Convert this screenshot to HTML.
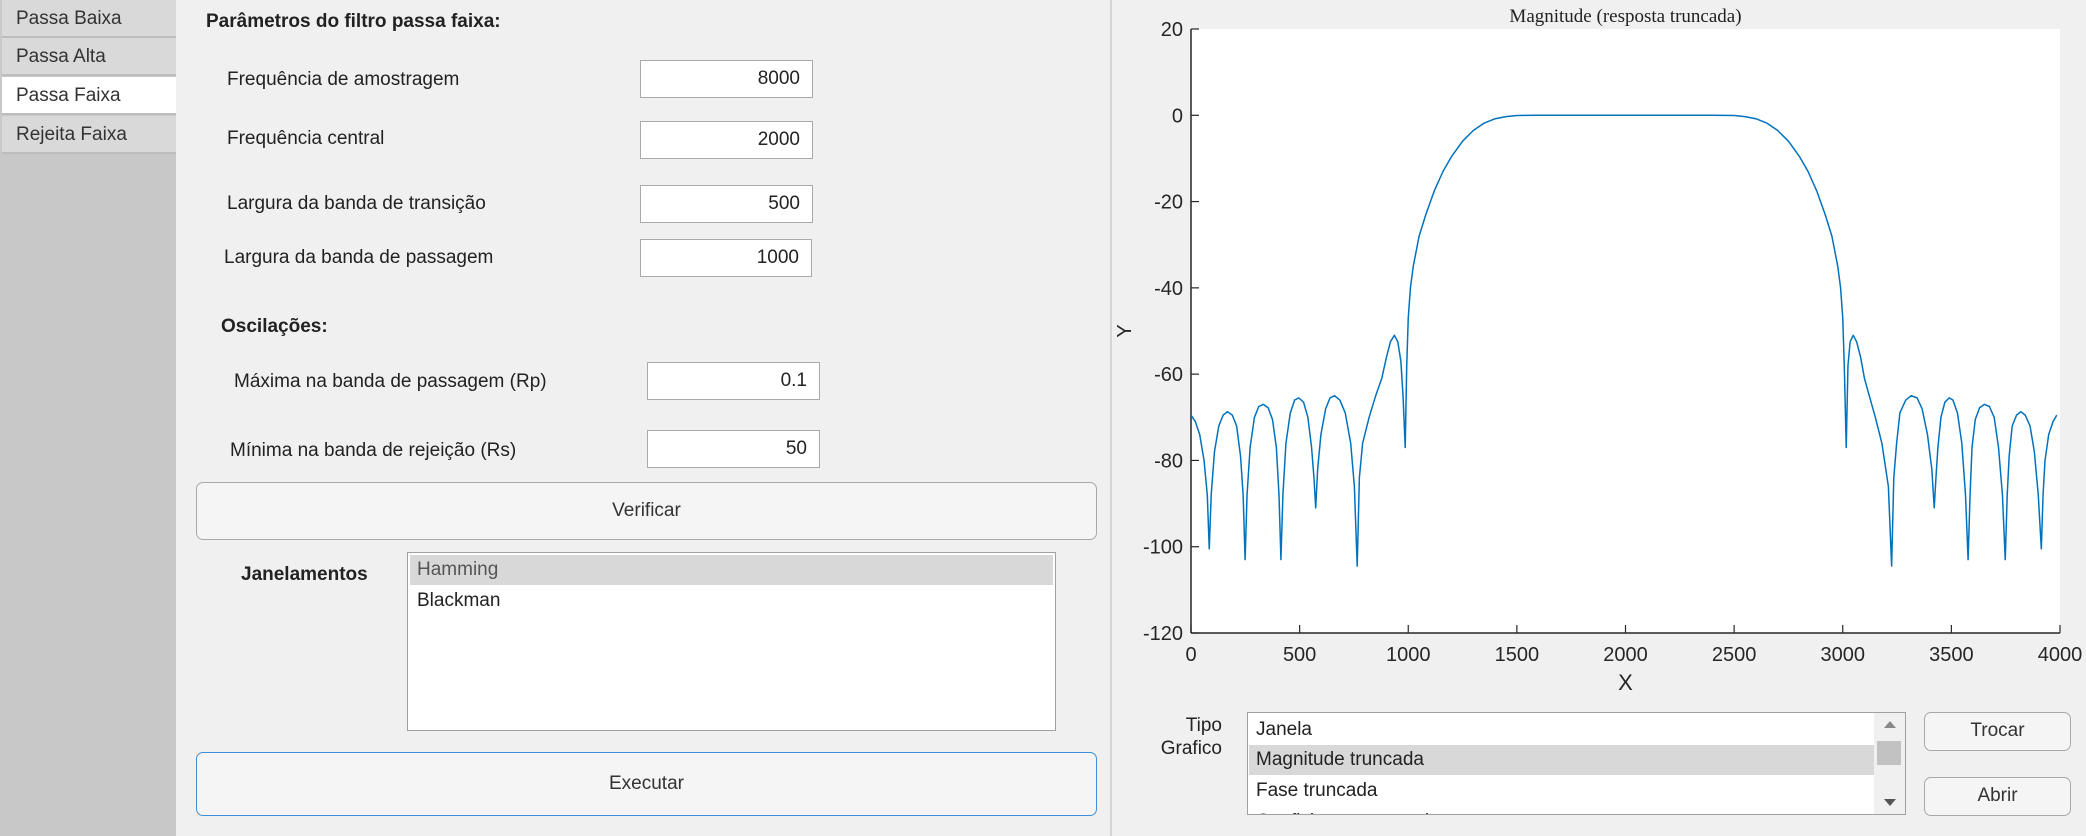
<!DOCTYPE html>
<html><head><meta charset="utf-8">
<style>
*{box-sizing:border-box;margin:0;padding:0}
body{width:2086px;height:836px;overflow:hidden;background:#f0f0f0;font-family:"Liberation Sans",sans-serif;position:relative;color:#222}
.a{position:absolute}
.lbl{position:absolute;font-size:19px;line-height:24px;white-space:nowrap}
.b{font-weight:bold}
.tab{position:absolute;left:2px;width:174px;height:38px;font-size:19px;line-height:38px;padding-left:14px;background:#d9d9d9;border-bottom:2px solid #bdbdbd;color:#333}
.box{position:absolute;background:#fff;border:1px solid #a9a9a9;font-size:19px;text-align:right;padding-right:12px;line-height:36px}
.btn{position:absolute;background:#f5f5f5;border:1.5px solid #a8a8a8;border-radius:7px;font-size:19px;text-align:center;color:#333}
</style></head><body>
<div class="a" style="left:0;top:0;width:176px;height:836px;background:#c8c8c8"></div>
<div class="tab" style="top:0">Passa Baixa</div>
<div class="tab" style="top:38px">Passa Alta</div>
<div class="tab" style="top:77px;background:#fff">Passa Faixa</div>
<div class="tab" style="top:116px">Rejeita Faixa</div>
<div class="a" style="left:1110px;top:0;width:2px;height:836px;background:#d4d4d4"></div>

<div class="lbl b" style="left:206px;top:10px">Parâmetros do filtro passa faixa:</div>
<div class="lbl" style="left:227px;top:68px">Frequência de amostragem</div>
<div class="box" style="left:640px;top:60px;width:173px;height:38px">8000</div>
<div class="lbl" style="left:227px;top:127px">Frequência central</div>
<div class="box" style="left:640px;top:121px;width:173px;height:38px">2000</div>
<div class="lbl" style="left:227px;top:192px">Largura da banda de transição</div>
<div class="box" style="left:640px;top:185px;width:173px;height:38px">500</div>
<div class="lbl" style="left:224px;top:246px">Largura da banda de passagem</div>
<div class="box" style="left:640px;top:239px;width:172px;height:38px">1000</div>
<div class="lbl b" style="left:221px;top:315px">Oscilações:</div>
<div class="lbl" style="left:234px;top:370px">Máxima na banda de passagem (Rp)</div>
<div class="box" style="left:647px;top:362px;width:173px;height:38px">0.1</div>
<div class="lbl" style="left:230px;top:439px">Mínima na banda de rejeição (Rs)</div>
<div class="box" style="left:647px;top:430px;width:173px;height:38px">50</div>
<div class="btn" style="left:196px;top:482px;width:901px;height:58px;line-height:55px">Verificar</div>
<div class="lbl b" style="left:241px;top:563px">Janelamentos</div>
<div class="a" style="left:407px;top:552px;width:649px;height:179px;background:#fff;border:1px solid #a0a0a0">
<div class="a" style="left:2px;top:2px;width:643px;height:30px;background:#d8d8d8;font-size:19px;line-height:30px;padding-left:7px;color:#555">Hamming</div>
<div class="a" style="left:2px;top:33px;width:643px;height:30px;font-size:19px;line-height:30px;padding-left:7px">Blackman</div>
</div>
<div class="btn" style="left:196px;top:752px;width:901px;height:64px;line-height:61px;border-color:#3c8fdb">Executar</div>

<svg class="a" style="left:1112px;top:0" width="974" height="705" id="chart"></svg>

<div class="lbl" style="left:1140px;top:714px;width:82px;text-align:right;line-height:23px">Tipo<br>Grafico</div>
<div class="a" style="left:1247px;top:712px;width:659px;height:103px;background:#fff;border:1px solid #a0a0a0;overflow:hidden">
<div class="a" style="left:1px;top:2px;width:625px;height:30px;font-size:19px;line-height:30px;padding-left:7px">Janela</div>
<div class="a" style="left:1px;top:32px;width:625px;height:30px;background:#d8d8d8;font-size:19px;line-height:30px;padding-left:7px">Magnitude truncada</div>
<div class="a" style="left:1px;top:63px;width:625px;height:30px;font-size:19px;line-height:30px;padding-left:7px">Fase truncada</div>
<div class="a" style="left:1px;top:94px;width:625px;height:30px;font-size:19px;line-height:30px;padding-left:7px">Coeficientes truncados</div>
<div class="a" style="left:626px;top:0;width:31px;height:101px;background:#f0f0f0">
<div class="a" style="left:10px;top:8px;width:0;height:0;border-left:6px solid transparent;border-right:6px solid transparent;border-bottom:7px solid #888"></div>
<div class="a" style="left:3px;top:28px;width:24px;height:24px;background:#c2c2c2"></div>
<div class="a" style="left:10px;top:86px;width:0;height:0;border-left:6px solid transparent;border-right:6px solid transparent;border-top:7px solid #555"></div>
</div>
</div>
<div class="btn" style="left:1924px;top:712px;width:147px;height:39px;line-height:36px">Trocar</div>
<div class="btn" style="left:1924px;top:777px;width:147px;height:39px;line-height:36px">Abrir</div>

<script>
const freqHz=[0,20,40,60,75,84,93,108,128,148,168,190,210,228,240,249,258,272,292,312,333,355,375,393,405,414,423,437,457,477,496,518,538,555,566,574,583,598,620,640,661,685,710,735,752,765,775,790,820,850,878,900,918,936,952,966,976,986,993,1000,1010,1023,1050,1081,1120,1160,1200,1250,1300,1350,1400,1450,1500,1600,2000,2400,2500,2550,2600,2650,2700,2750,2800,2840,2880,2919,2950,2977,2990,3000,3007,3016,3024,3034,3048,3064,3082,3100,3122,3150,3180,3210,3225,3235,3248,3263,3290,3315,3342,3365,3390,3410,3421,3429,3438,3452,3470,3490,3507,3528,3548,3565,3577,3586,3595,3610,3630,3652,3675,3697,3717,3735,3748,3757,3766,3780,3800,3820,3840,3862,3882,3900,3914,3922,3931,3948,3968,3985,4000];
const magDb=[-69.5,-71,-74,-80,-88,-100.5,-88,-78,-72,-69.5,-68.7,-69.5,-72,-79,-88,-103,-88,-77,-70,-67.5,-67,-67.8,-70.5,-77,-88,-103,-88,-76,-69,-66,-65.5,-66.5,-70,-77,-84,-91,-82,-74,-68,-65.5,-65,-66,-69,-76,-86,-104.5,-84,-76,-70,-65,-61,-56,-52.5,-51,-52.5,-57,-65,-77,-58,-47,-40,-35,-28,-23,-17.5,-13,-9.5,-6,-3.5,-1.8,-0.8,-0.3,-0.05,0,0,0,-0.05,-0.3,-0.8,-1.8,-3.5,-6,-9.5,-13,-17.5,-23,-28,-35,-40,-47,-58,-77,-58,-52.5,-51,-52.5,-56,-61,-65,-70,-76,-86,-104.5,-84,-76,-69,-66,-65,-65.5,-68,-74,-82,-91,-84,-77,-70,-66.5,-65.5,-66,-69,-76,-88,-103,-88,-77,-70.5,-67.8,-67,-67.5,-70,-77,-88,-103,-88,-79,-72,-69.5,-68.7,-69.5,-72,-78,-88,-100.5,-88,-80,-74,-71,-69.5];
const xTicks=[0,500,1000,1500,2000,2500,3000,3500,4000];
const yTicks=[20,0,-20,-40,-60,-80,-100,-120];

const svg=document.getElementById('chart');
const NS='http://www.w3.org/2000/svg';
const L=79,R=948,T=29,B=633;
const sx=v=>L+(v-0)/(4000-0)*(R-L);
const sy=v=>T+(20-v)/(20-(-120))*(B-T);
function mk(tag,attrs){const e=document.createElementNS(NS,tag);for(const k in attrs)e.setAttribute(k,attrs[k]);svg.appendChild(e);return e;}

const bg=mk('rect',{x:L,y:T,width:R-L,height:B-T,fill:'#fff'});



const title=mk('text',{x:(L+R)/2,y:22,'text-anchor':'middle','font-family':'Liberation Serif, serif','font-size':'19','fill':'#222'});
title.textContent='Magnitude (resposta truncada)';



const xa=mk('line',{x1:L,y1:B,x2:R,y2:B,stroke:'#262626','stroke-width':1.5});


const ya=mk('line',{x1:L,y1:T,x2:L,y2:B,stroke:'#262626','stroke-width':1.5});



xTicks.forEach(v=>{
  const t=mk('line',{x1:sx(v),y1:B,x2:sx(v),y2:B-8,stroke:'#262626','stroke-width':1.2});
  
  
  const l=mk('text',{x:sx(v),y:B+28,'text-anchor':'middle','font-size':'20','fill':'#262626'});
  l.textContent=v;
  
  
});
yTicks.forEach(v=>{
  const t=mk('line',{x1:L,y1:sy(v),x2:L+8,y2:sy(v),stroke:'#262626','stroke-width':1.2});
  
  
  const l=mk('text',{x:L-8,y:sy(v)+7,'text-anchor':'end','font-size':'20','fill':'#262626'});
  l.textContent=v;
  
  
});
const xl=mk('text',{x:(L+R)/2,y:690,'text-anchor':'middle','font-size':'22','fill':'#262626'});
xl.textContent='X';


const yl=mk('text',{x:0,y:0,'text-anchor':'middle','font-size':'20','fill':'#262626',transform:'translate(19,331) rotate(-90)'});
yl.textContent='Y';



let d='';
freqHz.forEach((f,i)=>{d+=(i?'L':'M')+sx(f).toFixed(2)+' '+sy(magDb[i]).toFixed(2)+' ';});
const line=mk('path',{d:d,fill:'none',stroke:'#0072bd','stroke-width':1.5,'stroke-linejoin':'round'});


</script>
</body></html>
